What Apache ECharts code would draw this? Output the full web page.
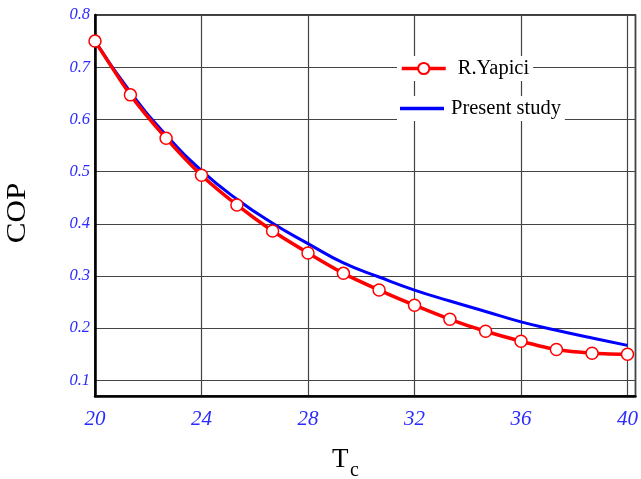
<!DOCTYPE html>
<html>
<head>
<meta charset="utf-8">
<script src="https://cdn.jsdelivr.net/npm/echarts@6/dist/echarts.min.js"></script>
<style>
  html, body { margin: 0; padding: 0; background: #fff; }
  #chart { width: 641px; height: 479px; }
</style>
</head>
<body>
<div id="chart"></div>
<script>
// Condenser temperature Tc and coefficient of performance
const tc = [20, 21.33, 22.67, 24, 25.33, 26.67, 28, 29.33, 30.67, 32, 33.33, 34.67, 36, 37.33, 38.67, 40];
const copYapici = [0.75, 0.647, 0.564, 0.493, 0.436, 0.386, 0.344, 0.305, 0.273, 0.244, 0.217, 0.194, 0.175, 0.159, 0.152, 0.150];
const copPresent = [0.75, 0.652, 0.570, 0.502, 0.447, 0.401, 0.362, 0.325, 0.298, 0.273, 0.252, 0.232, 0.212, 0.196, 0.181, 0.167];
const xTicks = [20, 24, 28, 32, 36, 40];
const yTicks = [0.1, 0.2, 0.3, 0.4, 0.5, 0.6, 0.7, 0.8];

const serif = 'Liberation Serif';
const tickBlue = '#2b2bff';

const pairs = (xs, ys) => xs.map((x, i) => [x, ys[i]]);
const isTick = (list, v) => list.some(t => Math.abs(t - v) < 1e-6);

const chart = echarts.init(document.getElementById('chart'), null, { renderer: 'canvas' });

chart.setOption({
  backgroundColor: '#fff',
  animation: false,
  grid: {
    left: 95, right: 4, top: 15, bottom: 83,
    show: true, borderColor: '#000', borderWidth: 1.5, backgroundColor: 'transparent'
  },
  xAxis: {
    type: 'value', min: 20, max: 40.3, interval: 4,
    axisLine: { show: true, lineStyle: { color: '#000', width: 2.5 } },
    axisTick: { show: false },
    splitLine: { show: true, lineStyle: { color: '#444', width: 1.2 } },
    axisLabel: {
      margin: 13,
      fontFamily: serif, fontStyle: 'italic', fontSize: 21, color: tickBlue,
      formatter: v => isTick(xTicks, v) ? String(v) : ''
    }
  },
  yAxis: {
    type: 'value', min: 0.07, max: 0.8,
    axisLine: { show: true, lineStyle: { color: '#000', width: 2.5 } },
    axisTick: { show: false, customValues: yTicks },
    splitLine: { show: true, lineStyle: { color: '#444', width: 1.2 } },
    axisLabel: {
      margin: 5, customValues: yTicks,
      fontFamily: serif, fontStyle: 'italic', fontSize: 16.5, color: tickBlue,
      formatter: v => v.toFixed(1)
    }
  },
  legend: [
    {
      data: ['R.Yapici'],
      left: 397, top: 56,
      backgroundColor: '#fff', padding: [2, 4, 2, 3],
      itemWidth: 44, itemHeight: 14,
      lineStyle: { width: 3.5 },
      textStyle: { fontFamily: serif, fontSize: 20.5, color: '#000', padding: [0, 0, 0, 7] }
    },
    {
      data: [{ name: 'Present study', icon: 'rect' }],
      left: 397, top: 96,
      backgroundColor: '#fff', padding: [2, 4, 2, 3],
      itemWidth: 44, itemHeight: 3.5,
      textStyle: { fontFamily: serif, fontSize: 20.5, color: '#000', padding: [0, 0, 0, 2] }
    }
  ],
  graphic: [
    {
      type: 'text', x: 18, y: 213, rotation: Math.PI / 2, scaleX: 1.15,
      style: { text: 'COP', font: '27px "Liberation Serif"', fill: '#000', align: 'center', verticalAlign: 'middle' }
    },
    {
      type: 'text', left: 332, top: 446,
      style: { text: 'T', font: '27px "Liberation Serif"', fill: '#000' }
    },
    {
      type: 'text', left: 350, top: 461,
      style: { text: 'c', font: '20px "Liberation Serif"', fill: '#000' }
    }
  ],
  series: [
    {
      name: 'Present study', type: 'line',
      data: pairs(tc, copPresent),
      smooth: true, showSymbol: false, symbol: 'none',
      lineStyle: { color: '#0000ff', width: 3 },
      itemStyle: { color: '#0000ff' },
      z: 2
    },
    {
      name: 'R.Yapici', type: 'line',
      data: pairs(tc, copYapici),
      smooth: 0.2,
      symbol: 'circle', symbolSize: 12, showAllSymbol: true,
      lineStyle: { color: '#ff0000', width: 3.5 },
      itemStyle: { color: '#fff', borderColor: '#ff0000', borderWidth: 1.5 },
      z: 3
    }
  ]
});
</script>
</body>
</html>
